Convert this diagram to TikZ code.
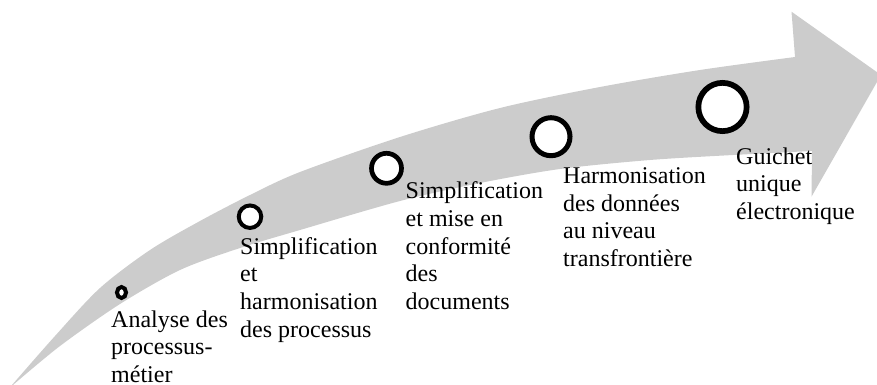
\documentclass[tikz,border=0pt]{standalone}
\usepackage{fontspec}
\setmainfont{Liberation Serif}
\usetikzlibrary{shapes.geometric}
\definecolor{arrowgray}{RGB}{204,204,204}
\begin{document}
\begin{tikzpicture}[x=1pt,y=-1pt,
  ring/.style={draw=black, fill=white, inner sep=0pt},
  lbl/.style={anchor=north west, inner sep=0pt, align=left,
    font=\fontsize{24}{27.6}\selectfont, text=black}]
\useasboundingbox (0,0) rectangle (877,385);
\clip (0,0) rectangle (877,385);
% big curved arrow
\fill[arrowgray]
  plot[smooth] coordinates {(12,385) (55,336) (100,288) (150,250) (200,221)
    (250,195) (300,172) (400,137) (500,108) (600,87) (700,70) (795,57)}
  -- (791.5,11.7) -- (881,75) -- (811.5,196.7)
  -- plot[smooth] coordinates {(812,151) (733,155) (650,160) (560,169)
    (480,183) (400,201) (300,230) (240,248) (180,270) (120,304) (60,346) (13,385)}
  -- cycle;
% milestones
\node[ring, ellipse, line width=4pt, minimum width=9pt, minimum height=11pt] (c1) at (121.5,292.5) {};
\node[ring, circle, line width=4pt, minimum size=22.5pt] (c2) at (250,216.7) {};
\node[ring, circle, line width=4.7pt, minimum size=30pt] (c3) at (386.5,168.3) {};
\node[ring, circle, line width=5pt, minimum size=38pt] (c4) at (551,136.7) {};
\node[ring, circle, line width=5.7pt, minimum size=48.3pt] (c5) at (722.5,107) {};
% labels
\node[lbl] (t1) at (111,307.7) {\strut Analyse des\\processus-\\métier};
\node[lbl] (t2) at (240,234.7) {\strut Simplification\\et\\harmonisation\\des processus};
\node[lbl] (t3) at (405.5,179.4) {\strut Simplification\\et mise en\\conformité\\des\\documents};
\node[lbl] (t4) at (563,164.2) {\strut Harmonisation\\des données\\au niveau\\transfrontière};
\node[lbl] (t5) at (736,144.7) {\strut Guichet\\unique\\électronique};
\end{tikzpicture}
\end{document}
